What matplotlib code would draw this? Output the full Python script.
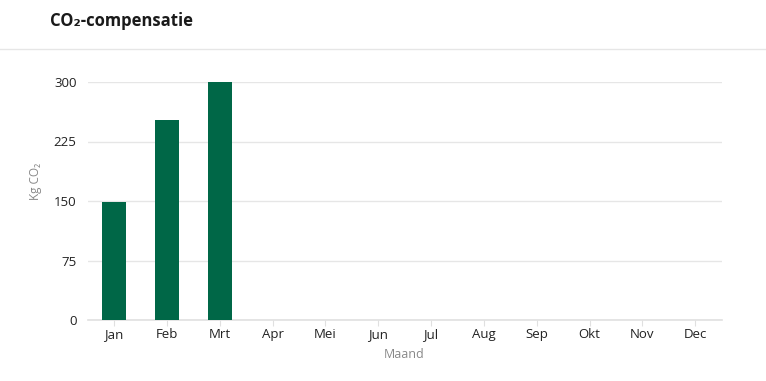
import matplotlib
matplotlib.use("Agg")
import matplotlib.pyplot as plt
from matplotlib.lines import Line2D

months = ["Jan", "Feb", "Mrt", "Apr", "Mei", "Jun", "Jul", "Aug", "Sep", "Okt", "Nov", "Dec"]
values = [149, 252, 300, 0, 0, 0, 0, 0, 0, 0, 0, 0]
yticks = [0, 75, 150, 225, 300]

plt.rcParams['font.family'] = ['Open Sans', 'DejaVu Sans']

W, H = 766, 381
fig = plt.figure(figsize=(W / 100, H / 100), dpi=100)
ax = fig.add_axes([87.6 / W, 1 - 320 / H, 634 / W, 238 / H])

x = list(range(len(months)))
ax.bar(x, values, width=0.45, color="#006747", zorder=3)

ax.set_xlim(-0.5, len(months) - 0.5)
ax.set_ylim(0, 300)
ax.set_yticks(yticks)
ax.set_xticks(x)
ax.set_xticklabels(months)
ax.yaxis.grid(True, color="#e6e6e6", linewidth=1, zorder=0)
ax.xaxis.grid(False)
for s in ["top", "right", "left"]:
    ax.spines[s].set_visible(False)
ax.spines["bottom"].set_color("#e0e0e0")
ax.spines["bottom"].set_linewidth(1.2)
ax.tick_params(axis="y", length=0, pad=8, labelsize=9.5, labelcolor="#222222")
ax.tick_params(axis="x", length=4, color="#e0e0e0", pad=1.5, labelsize=9.5, labelcolor="#222222")

ax.set_xlabel("Maand", fontsize=9, color="#888888", labelpad=5)
ax.set_ylabel("Kg CO₂", fontsize=8.5, color="#888888")
ax.yaxis.set_label_coords((42 - 87.6) / 634, (320 - 181) / 238)

fig.text(50 / W, 1 - 21 / H, "CO₂-compensatie", fontsize=12, fontweight="bold",
         color="#1a1a1a", va="center", ha="left")
fig.add_artist(Line2D([0, 1], [1 - 48.5 / H, 1 - 48.5 / H], color="#e6e6e6", linewidth=1,
                      transform=fig.transFigure))

fig.savefig("out.png", dpi=100)
